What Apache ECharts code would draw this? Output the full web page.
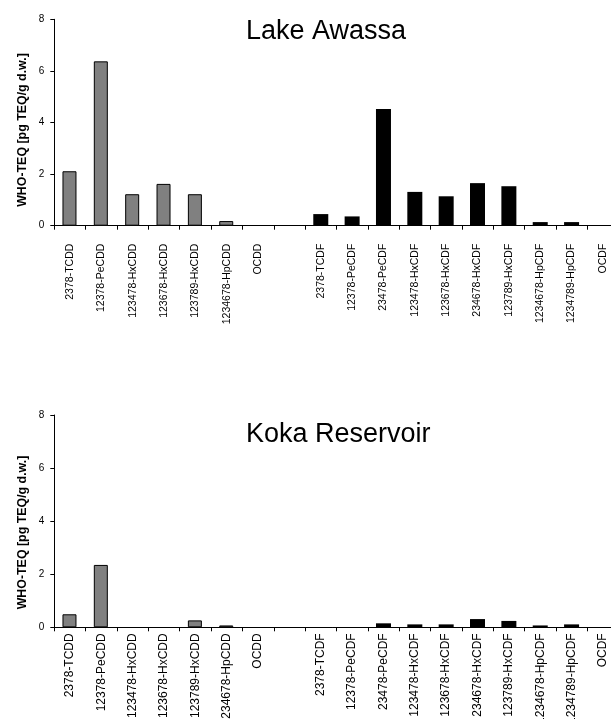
<!DOCTYPE html>
<html>
<head>
<meta charset="utf-8">
<script src="https://cdn.jsdelivr.net/npm/echarts@6/dist/echarts.min.js"></script>
<style>
  html, body { margin: 0; padding: 0; background: #fff; }
  #chart { width: 611px; height: 719px; }
</style>
</head>
<body>
<div id="chart"></div>
<script>
// congener names
const dioxinLabels = ["2378-TCDD", "12378-PeCDD", "123478-HxCDD", "123678-HxCDD", "123789-HxCDD", "1234678-HpCDD", "OCDD"];
const furanLabels = ["2378-TCDF", "12378-PeCDF", "23478-PeCDF", "123478-HxCDF", "123678-HxCDF", "234678-HxCDF", "123789-HxCDF", "1234678-HpCDF", "1234789-HpCDF", "OCDF"];

// WHO-TEQ [pg TEQ/g d.w.]
const awassaPCDD = [2.11, 6.37, 1.22, 1.62, 1.22, 0.18, 0];
const awassaPCDF = [0.45, 0.36, 4.52, 1.31, 1.14, 1.65, 1.53, 0.14, 0.14, 0];
const kokaPCDD = [0.49, 2.35, 0, 0, 0.26, 0.07, 0];
const kokaPCDF = [0, 0, 0.15, 0.11, 0.11, 0.31, 0.24, 0.07, 0.11, 0];

const yTicks = [0, 2, 4, 6, 8];
const titles = ["Lake Awassa", "Koka Reservoir"];
const yName = "WHO-TEQ [pg TEQ/g d.w.]";

const font = "Liberation Sans, Arial, sans-serif";
const categories = dioxinLabels.concat([""], furanLabels);
const blankF = furanLabels.map(() => "-");
const blankD = dioxinLabels.map(() => "-");

// zero values get no bar at all (otherwise the border shows a stub)
const noZero = v => (v === 0 ? "-" : v);

function pcddData(vals) {
  return vals.map(noZero).concat(["-"], blankF);
}
function pcdfData(vals) {
  return blankD.concat(["-"], vals.map(noZero));
}

// plot area runs past the right edge like the cropped original
const grids = [
  { left: 54.3, top: 19.3, width: 564.3, height: 206.4, outerBoundsMode: "none", containLabel: false },
  { left: 54.3, top: 415, width: 564.3, height: 212.3, outerBoundsMode: "none", containLabel: false }
];

function xAxis(idx, fontSize, margin) {
  return {
    type: "category",
    gridIndex: idx,
    data: categories,
    axisLine: { lineStyle: { color: "#000", width: 1 } },
    axisTick: { show: true, length: 4, lineStyle: { color: "#000" } },
    axisLabel: {
      rotate: 90,
      interval: 0,
      margin: margin,
      fontSize: fontSize,
      color: "#000",
      fontFamily: font
    },
    splitLine: { show: false }
  };
}

function yAxis(idx) {
  return {
    type: "value",
    gridIndex: idx,
    min: yTicks[0],
    max: yTicks[yTicks.length - 1],
    interval: 2,
    axisLine: { show: true, lineStyle: { color: "#000", width: 1 } },
    axisTick: { show: true, length: 4, lineStyle: { color: "#000" } },
    axisLabel: { margin: 10, fontSize: 10, color: "#000", fontFamily: font },
    splitLine: { show: false }
  };
}

function greyBars(idx, vals) {
  return {
    type: "bar",
    xAxisIndex: idx,
    yAxisIndex: idx,
    data: pcddData(vals),
    barWidth: 14,
    itemStyle: { color: "#808080", borderColor: "#000", borderWidth: 1 },
    silent: true
  };
}

function blackBars(idx, vals) {
  return {
    type: "bar",
    xAxisIndex: idx,
    yAxisIndex: idx,
    data: pcdfData(vals),
    barWidth: 15,
    barGap: "-100%",
    itemStyle: { color: "#000" },
    silent: true
  };
}

const option = {
  animation: false,
  backgroundColor: "#fff",
  title: [
    { text: titles[0], left: 241, top: 13.4, textStyle: { fontSize: 27, fontWeight: "normal", color: "#000", fontFamily: font } },
    { text: titles[1], left: 241, top: 415.7, textStyle: { fontSize: 27, fontWeight: "normal", color: "#000", fontFamily: font } }
  ],
  graphic: [
    { type: "text", x: 23, y: 130, rotation: Math.PI / 2,
      style: { text: yName, font: "bold 12.4px " + font, fill: "#000", textAlign: "center", textVerticalAlign: "middle" } },
    { type: "text", x: 23, y: 532.5, rotation: Math.PI / 2,
      style: { text: yName, font: "bold 12.4px " + font, fill: "#000", textAlign: "center", textVerticalAlign: "middle" } }
  ],
  grid: grids,
  xAxis: [xAxis(0, 10.5, 18), xAxis(1, 12, 6)],
  yAxis: [yAxis(0), yAxis(1)],
  series: [
    greyBars(0, awassaPCDD),
    blackBars(0, awassaPCDF),
    greyBars(1, kokaPCDD),
    blackBars(1, kokaPCDF)
  ]
};

const myChart = echarts.init(document.getElementById("chart"));
myChart.setOption(option);
</script>
</body>
</html>
